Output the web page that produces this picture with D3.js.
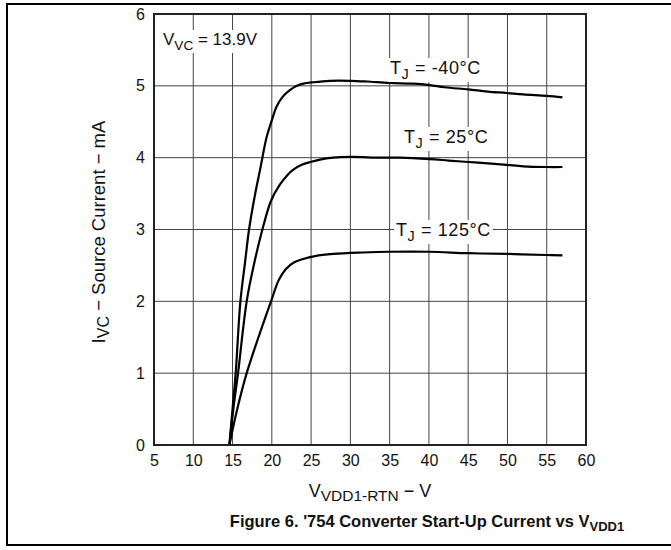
<!DOCTYPE html>
<html><head><meta charset="utf-8">
<script src="https://cdn.jsdelivr.net/npm/d3@7"></script>
<style>body{margin:0;background:#fff}svg{display:block}text{font-family:Arial,"Liberation Sans",sans-serif;fill:#111}</style>
</head><body><svg id="c" width="671" height="550"></svg>
<script>
const xTicks = [5,10,15,20,25,30,35,40,45,50,55,60];
const yTicks = [0,1,2,3,4,5,6];
const vM40 = [14.6,15.0,15.4,16.0,16.6,17.1,17.8,18.5,19.35,20.0,20.6,21.4,22.3,23.2,24.0,25.3,27.4,30,32.1,35,38,40.1,42,45,47.5,49.9,52,55,57];
const iM40 = [0,0.5,1,2,2.55,3,3.45,3.83,4.29,4.52,4.71,4.85,4.94,5.0,5.03,5.05,5.07,5.07,5.06,5.04,5.03,5.01,4.98,4.95,4.92,4.90,4.88,4.86,4.84];
const v25 = [14.6,15.1,15.7,16.8,17.8,18.8,19.9,21,22,22.7,23.8,24.9,26,27.8,30,33.8,36.3,40.1,42.5,45,47.5,49.9,52,55,57];
const i25 = [0,0.5,1,2,2.55,3,3.4,3.62,3.76,3.83,3.9,3.94,3.97,4.0,4.01,4.00,4.00,3.98,3.96,3.94,3.92,3.90,3.88,3.87,3.87];
const v125 = [14.6,15.6,16.8,18.3,19.9,20.9,21.8,22.8,24,25.5,27.8,31.6,35,40,45,50,55,57];
const i125 = [0,0.5,1,1.5,2,2.3,2.45,2.54,2.59,2.63,2.66,2.68,2.69,2.69,2.67,2.66,2.645,2.64];

const svg = d3.select("#c");
const L=154,R=586,T=14,B=445;
const x = d3.scaleLinear().domain([5,60]).range([L,R]);
const y = d3.scaleLinear().domain([0,6]).range([B,T]);

// outer frame
svg.append("rect").attr("x",7).attr("y",4).attr("width",700).attr("height",541)
  .attr("fill","none").attr("stroke","#000").attr("stroke-width",2);

// grid
svg.append("g").selectAll("line").data(xTicks.slice(1,-1)).join("line")
  .attr("x1",d=>x(d)).attr("x2",d=>x(d)).attr("y1",T).attr("y2",B)
  .attr("stroke","#444").attr("stroke-width",1);
svg.append("g").selectAll("line").data(yTicks.slice(1,-1)).join("line")
  .attr("y1",d=>y(d)).attr("y2",d=>y(d)).attr("x1",L).attr("x2",R)
  .attr("stroke","#444").attr("stroke-width",1);

// axes labels
const ax = svg.append("g").attr("transform",`translate(0,${B})`)
  .call(d3.axisBottom(x).tickValues(xTicks).tickFormat(d3.format("d")).tickSize(0).tickPadding(10));
ax.select(".domain").remove();
ax.selectAll("text").attr("font-size",16).attr("font-family","Arial,'Liberation Sans',sans-serif").attr("fill","#111");
const ay = svg.append("g").attr("transform",`translate(${L},0)`)
  .call(d3.axisLeft(y).tickValues(yTicks).tickFormat(d3.format("d")).tickSize(0).tickPadding(9));
ay.select(".domain").remove();
ay.selectAll("text").attr("font-size",16).attr("font-family","Arial,'Liberation Sans',sans-serif").attr("fill","#111");

// labels with white background
function label(tx,ty,parts,size,ls){
  const g = svg.append("g");
  const bg = g.append("rect").attr("fill","#fff");
  const t = g.append("text").attr("x",tx).attr("y",ty).attr("font-size",size).attr("letter-spacing",ls||0);
  parts.forEach(p=>{
    const s = t.append("tspan").text(p.t);
    if(p.small) s.attr("font-size",size*0.8);
    if(p.dy) s.attr("dy",p.dy);
  });
  const bb = t.node().getBBox();
  bg.attr("x",bb.x-2).attr("y",bb.y).attr("width",bb.width+4).attr("height",bb.height);
}

// curves
const line = d3.line().x(d=>x(d[0])).y(d=>y(d[1])).curve(d3.curveCatmullRom.alpha(0.5));
[[vM40,iM40],[v25,i25],[v125,i125]].forEach(([vs,is])=>{
  svg.append("path").datum(vs.map((v,k)=>[v,is[k]])).attr("d",line)
    .attr("fill","none").attr("stroke","#000").attr("stroke-width",2.2);
});

label(163,45,[{t:"V"},{t:"VC",small:1,dy:5},{t:" = 13.9V",dy:-5}],17);
label(390,74,[{t:"T"},{t:"J",small:1,dy:5},{t:" = -40°C",dy:-5}],18,0.6);
label(404,143,[{t:"T"},{t:"J",small:1,dy:5},{t:" = 25°C",dy:-5}],18,0.6);
label(396,236,[{t:"T"},{t:"J",small:1,dy:5},{t:" = 125°C",dy:-5}],18,0.6);

// plot frame
svg.append("rect").attr("x",L).attr("y",T).attr("width",R-L).attr("height",B-T)
  .attr("fill","none").attr("stroke","#222").attr("stroke-width",2);

// axis titles
const yt = svg.append("text").attr("transform","translate(105,232) rotate(-90)")
  .attr("text-anchor","middle").attr("font-size",18.5);
yt.append("tspan").text("I");
yt.append("tspan").text("VC").attr("font-size",16).attr("dy",4);
yt.append("tspan").text(" − Source Current − mA").attr("dy",-4);

const xt = svg.append("text").attr("x",370).attr("y",497).attr("text-anchor","middle").attr("font-size",18);
xt.append("tspan").text("V");
xt.append("tspan").text("VDD1-RTN").attr("font-size",15.5).attr("dy",4);
xt.append("tspan").text(" − V").attr("dy",-4);

const cap = svg.append("text").attr("x",427).attr("y",527).attr("text-anchor","middle")
  .attr("font-size",16.5).attr("font-weight","bold");
cap.append("tspan").text("Figure 6. '754 Converter Start-Up Current vs V");
cap.append("tspan").text("VDD1").attr("font-size",13).attr("dy",4);
</script></body></html>
